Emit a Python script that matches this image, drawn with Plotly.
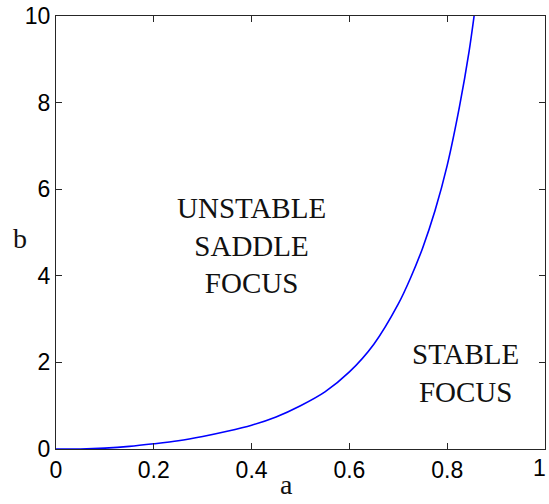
import plotly.graph_objects as go

# Boundary curve b(a) separating the two equilibrium types
a_vals = [0.0, 0.05, 0.10, 0.15, 0.20, 0.25, 0.30, 0.35, 0.40, 0.45, 0.50,
          0.55, 0.60, 0.65, 0.70, 0.725, 0.75, 0.775, 0.80, 0.825, 0.845, 0.855]
b_vals = [0.0, 0.0, 0.02, 0.06, 0.12, 0.19, 0.29, 0.41, 0.55, 0.74, 1.00,
          1.32, 1.78, 2.42, 3.35, 3.95, 4.65, 5.50, 6.55, 7.90, 9.20, 10.0]

x_ticks = [0, 0.2, 0.4, 0.6, 0.8, 1]
x_tick_text = ["0", "0.2", "0.4", "0.6", "0.8", "1"]
y_ticks = [0, 2, 4, 6, 8, 10]
y_tick_text = ["0", "2", "4", "6", "8", "10"]

region_labels = ["UNSTABLE<br>SADDLE<br>FOCUS", "STABLE<br>FOCUS"]
region_a = [0.399, 0.838]
region_b = [4.71, 1.76]

tick_font = dict(family="Liberation Sans", size=23, color="#000000")
label_font = dict(family="Liberation Serif", size=28, color="#111111")

fig = go.Figure()
fig.add_trace(go.Scatter(
    x=a_vals, y=b_vals, mode="lines",
    line=dict(color="#0000ff", width=1.6, shape="spline", smoothing=0.8),
    hoverinfo="skip", showlegend=False,
))

for txt, xa, yb in zip(region_labels, region_a, region_b):
    fig.add_annotation(
        x=xa, y=yb, xref="x", yref="y", text=txt, showarrow=False,
        font=dict(family="Liberation Serif", size=29, color="#111111"),
        align="center", xanchor="center", yanchor="middle",
    )

# the last x tick label sits on the right edge of the figure, so it is
# drawn as an annotation pinned to that edge
fig.add_annotation(x=1.006, y=-0.043, xref="paper", yref="paper",
                   text=x_tick_text[-1], showarrow=False,
                   xanchor="right", yanchor="middle", font=tick_font)
axis_x_text = x_tick_text[:-1] + [""]

# axis labels
fig.add_annotation(x=0.472, y=-0.122, xref="paper", yref="paper", text="a",
                   showarrow=False, xanchor="center", yanchor="bottom",
                   font=label_font)
fig.add_annotation(x=-0.074, y=0.487, xref="paper", yref="paper", text="b",
                   showarrow=False, xanchor="center", yanchor="middle",
                   font=label_font)

axis_common = dict(
    showgrid=False, zeroline=False, showline=True, linecolor="#262626",
    linewidth=1.2, mirror="ticks", ticks="inside", ticklen=6,
    tickcolor="#262626", tickwidth=1, tickfont=tick_font,
)

fig.update_xaxes(range=[0, 1], tickvals=x_ticks, ticktext=axis_x_text,
                 **axis_common)
fig.update_yaxes(range=[0, 10], tickvals=y_ticks, ticktext=y_tick_text,
                 **axis_common)

fig.update_layout(
    width=549, height=504,
    margin=dict(l=56, r=3, t=14, b=55),
    paper_bgcolor="white", plot_bgcolor="white",
)

fig.write_html("out.html")
